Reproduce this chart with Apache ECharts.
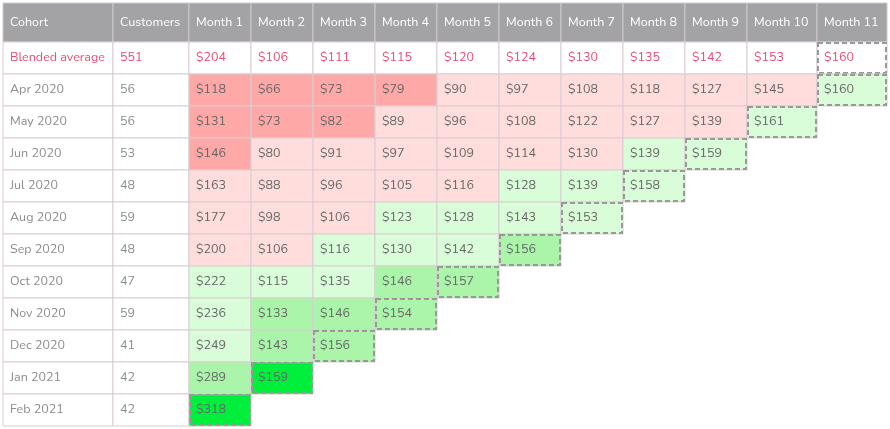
<!DOCTYPE html>
<html>
<head>
<meta charset="utf-8">
<script src="https://cdn.jsdelivr.net/npm/echarts@6/dist/echarts.min.js"></script>
<style>html,body{margin:0;padding:0;background:#fff}#chart{width:890px;height:429px}</style>
</head>
<body>
<div id="chart"></div>
<script>
var headers = ['Cohort', 'Customers', 'Month 1', 'Month 2', 'Month 3', 'Month 4', 'Month 5', 'Month 6', 'Month 7', 'Month 8', 'Month 9', 'Month 10', 'Month 11'];
var cohorts = ['Apr 2020', 'May 2020', 'Jun 2020', 'Jul 2020', 'Aug 2020', 'Sep 2020', 'Oct 2020', 'Nov 2020', 'Dec 2020', 'Jan 2021', 'Feb 2021'];
var customers = [56, 56, 53, 48, 59, 48, 47, 59, 41, 42, 42];
var blendedCustomers = 551;
// blended averages (shown rounded)
var blended = [204, 106, 111, 115, 120, 124, 130, 135, 142, 153, 159.6];
var apr2020 = [118, 66, 73, 79, 90, 97, 108, 118, 127, 145, 160];
var may2020 = [131, 73, 82, 89, 96, 108, 122, 127, 139, 161];
var jun2020 = [146, 80, 91, 97, 109, 114, 130, 139, 159];
var jul2020 = [163, 88, 96, 105, 116, 128, 139, 158];
var aug2020 = [177, 98, 106, 123, 128, 143, 153];
var sep2020 = [200, 106, 116, 130, 142, 156];
var oct2020 = [222, 115, 135, 146, 157];
var nov2020 = [236, 133, 146, 154];
var dec2020 = [249, 143, 156];
var jan2021 = [289, 159];
var feb2021 = [318];
var rows = [apr2020, may2020, jun2020, jul2020, aug2020, sep2020, oct2020, nov2020, dec2020, jan2021, feb2021];

// table layout (pixels)
var colEdges = [3, 113, 189, 251, 313, 375, 437, 499, 561, 623, 685, 747, 817, 887];
var headerTop = 3, headerBottom = 42, rowH = 32;

function fillFor(v, avg) {
    var r = v / avg;
    if (r < 0.745) return '#ffa8a8';
    if (r <= 1) return '#ffdddd';
    if (r < 1.23) return '#d9fdd9';
    if (r < 1.48) return '#aaf5aa';
    return '#00ee3c';
}

// cells: [col, row, text, fill, textColor, dashed]
var cells = [];
headers.forEach(function (h, c) { cells.push([c, -1, h, '#a3a3a5', '#ffffff', 0]); });
var red = '#ea4a72';
cells.push([0, 0, 'Blended average', '#ffffff', red, 0]);
cells.push([1, 0, String(blendedCustomers), '#ffffff', red, 0]);
blended.forEach(function (v, i) { cells.push([i + 2, 0, '$' + Math.round(v), '#ffffff', red, i === blended.length - 1 ? 1 : 0]); });
rows.forEach(function (vals, r) {
    cells.push([0, r + 1, cohorts[r], '#ffffff', '#8c8c8c', 0]);
    cells.push([1, r + 1, String(customers[r]), '#ffffff', '#8c8c8c', 0]);
    vals.forEach(function (v, i) {
        cells.push([i + 2, r + 1, '$' + v, fillFor(v, blended[i]), '#666666', i === vals.length - 1 ? 1 : 0]);
    });
});

var myChart = echarts.init(document.getElementById('chart'));
var option = {
    animation: false,
    grid: {left: 0, right: 0, top: 0, bottom: 0},
    xAxis: {type: 'value', min: 0, max: 890, show: false},
    yAxis: {type: 'value', min: 0, max: 429, inverse: true, show: false},
    series: [{
        type: 'custom',
        data: cells,
        renderItem: function (params, api) {
            var c = api.value(0), r = api.value(1);
            var d = cells[params.dataIndex];
            var x0 = colEdges[c], x1 = colEdges[c + 1];
            var y0 = r < 0 ? headerTop : headerBottom + r * rowH;
            var y1 = r < 0 ? headerBottom : y0 + rowH;
            var p0 = api.coord([x0, y0]), p1 = api.coord([x1, y1]);
            var w = p1[0] - p0[0], h = p1[1] - p0[1];
            var children = [{
                type: 'rect',
                shape: {x: p0[0], y: p0[1], width: w, height: h},
                style: {fill: d[3], stroke: r < 0 ? '#d0c8cc' : '#d9cdd2', lineWidth: 1}
            }, {
                type: 'text',
                style: {
                    x: p0[0] + 7, y: p0[1] + h / 2, text: d[2],
                    fill: d[4], font: '12.5px Nunito, Lato, "Open Sans", sans-serif',
                    verticalAlign: 'middle', align: 'left'
                }
            }];
            if (d[5]) {
                children.push({
                    type: 'rect',
                    shape: {x: p0[0] + 1, y: p0[1] + 1, width: w - 2, height: h - 2},
                    style: {fill: null, stroke: '#999999', lineWidth: 2, lineDash: [5, 3]}
                });
            }
            return {type: 'group', children: children};
        }
    }]
};
myChart.setOption(option);
</script>
</body>
</html>
